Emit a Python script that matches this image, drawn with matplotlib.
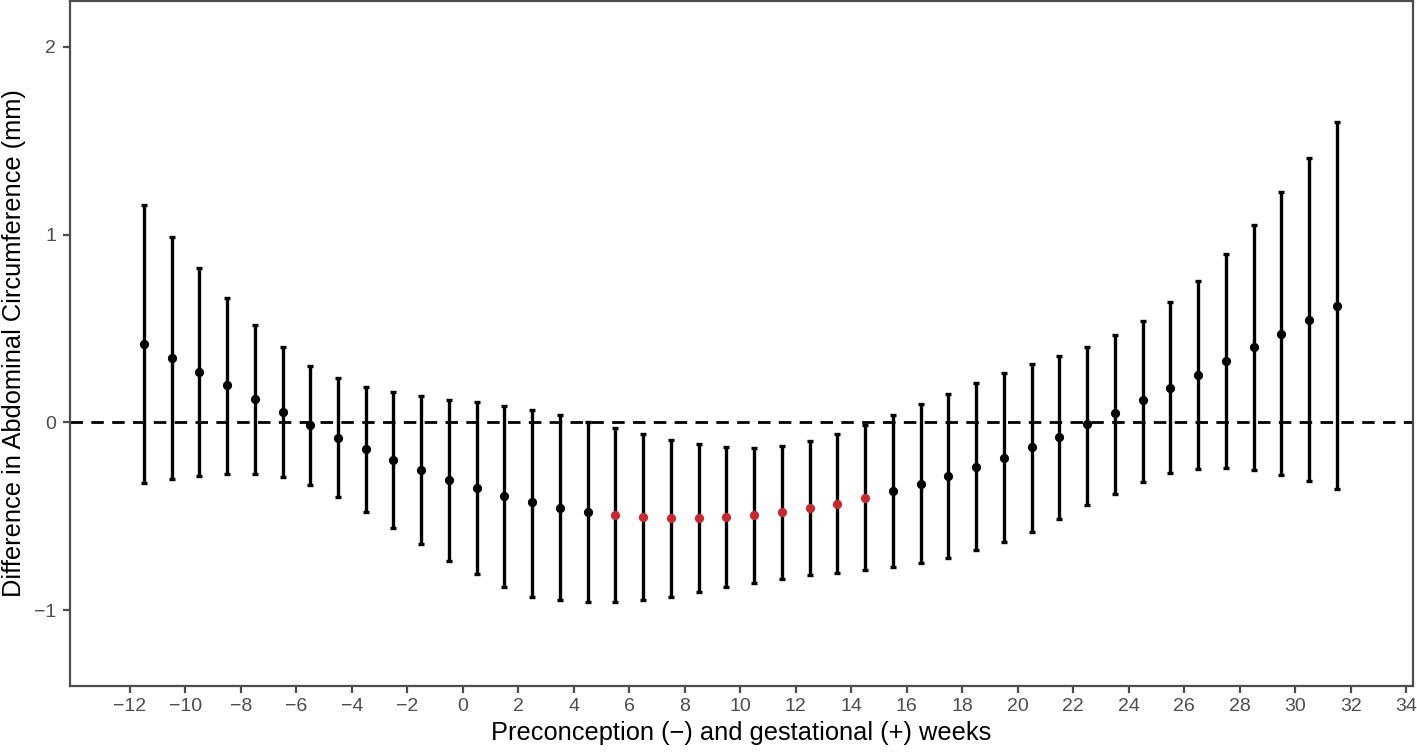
import numpy as np
import matplotlib.pyplot as plt

plt.rcParams['font.family'] = ['Liberation Sans', 'DejaVu Sans']

# weeks relative to conception
weeks = [-11.5, -10.5, -9.5, -8.5, -7.5, -6.5, -5.5, -4.5, -3.5, -2.5, -1.5, -0.5,
         0.5, 1.5, 2.5, 3.5, 4.5, 5.5, 6.5, 7.5, 8.5, 9.5, 10.5, 11.5,
         12.5, 13.5, 14.5, 15.5, 16.5, 17.5, 18.5, 19.5, 20.5, 21.5, 22.5, 23.5,
         24.5, 25.5, 26.5, 27.5, 28.5, 29.5, 30.5, 31.5]
estimate = [0.42, 0.345, 0.27, 0.197, 0.125, 0.055, -0.012, -0.082, -0.144, -0.2, -0.255, -0.305,
            -0.35, -0.39, -0.425, -0.457, -0.479, -0.495, -0.505, -0.51, -0.51, -0.505, -0.495, -0.479,
            -0.457, -0.433, -0.40, -0.367, -0.33, -0.287, -0.235, -0.19, -0.13, -0.075, -0.01, 0.048,
            0.117, 0.186, 0.255, 0.325, 0.40, 0.473, 0.548, 0.622]
upper = [1.16, 0.99, 0.825, 0.665, 0.52, 0.40, 0.30, 0.235, 0.19, 0.16, 0.14, 0.122,
         0.11, 0.09, 0.065, 0.037, 0.0, -0.03, -0.06, -0.092, -0.113, -0.13, -0.134, -0.124,
         -0.10, -0.06, -0.016, 0.037, 0.096, 0.15, 0.21, 0.265, 0.31, 0.355, 0.40, 0.465,
         0.54, 0.64, 0.755, 0.895, 1.053, 1.228, 1.41, 1.60]
lower = [-0.325, -0.30, -0.285, -0.273, -0.277, -0.293, -0.335, -0.395, -0.475, -0.564, -0.65, -0.74,
         -0.81, -0.875, -0.93, -0.947, -0.958, -0.958, -0.948, -0.93, -0.905, -0.879, -0.855, -0.835,
         -0.814, -0.80, -0.786, -0.77, -0.75, -0.72, -0.68, -0.635, -0.585, -0.515, -0.44, -0.38,
         -0.315, -0.27, -0.25, -0.245, -0.255, -0.28, -0.314, -0.355]
# critical window highlighted in red
critical = [5.5, 6.5, 7.5, 8.5, 9.5, 10.5, 11.5, 12.5, 13.5, 14.5]

x = np.array(weeks)
y = np.array(estimate)
lo = np.array(lower)
hi = np.array(upper)
is_red = np.isin(x, critical)

fig = plt.figure(figsize=(14.17, 7.56), dpi=100)
ax = fig.add_axes([0.0494, 0.0926, 0.9478, 0.9061])

ax.axhline(0, color='black', linestyle=(0, (4.5, 3)), linewidth=2.0, zorder=1)
ax.errorbar(x, y, yerr=[y - lo, hi - y], fmt='none', ecolor='black',
            elinewidth=2.4, capsize=2.4, capthick=2.4, zorder=2)
ax.scatter(x[~is_red], y[~is_red], s=44, color='black', zorder=3, linewidths=0)
ax.scatter(x[is_red], y[is_red], s=44, color='#c8292e', zorder=3, linewidths=0)

ax.set_xlim(-14.16, 34.25)
ax.set_ylim(-1.404, 2.245)
ax.set_xticks(np.arange(-12, 35, 2))
ax.set_yticks([-1, 0, 1, 2])

grey = '#4d4d4d'
for s in ax.spines.values():
    s.set_color(grey)
    s.set_linewidth(1.6)
ax.tick_params(colors=grey, labelcolor=grey, labelsize=14, length=5, width=1.6)
ax.tick_params(axis='x', pad=4)
ax.tick_params(axis='y', pad=5)
ax.set_xlabel('Preconception (\u2212) and gestational (+) weeks', fontsize=18.3, labelpad=4)
ax.set_ylabel('Difference in Abdominal Circumference (mm)', fontsize=18.3, labelpad=6)

fig.savefig('out.png', dpi=100)
